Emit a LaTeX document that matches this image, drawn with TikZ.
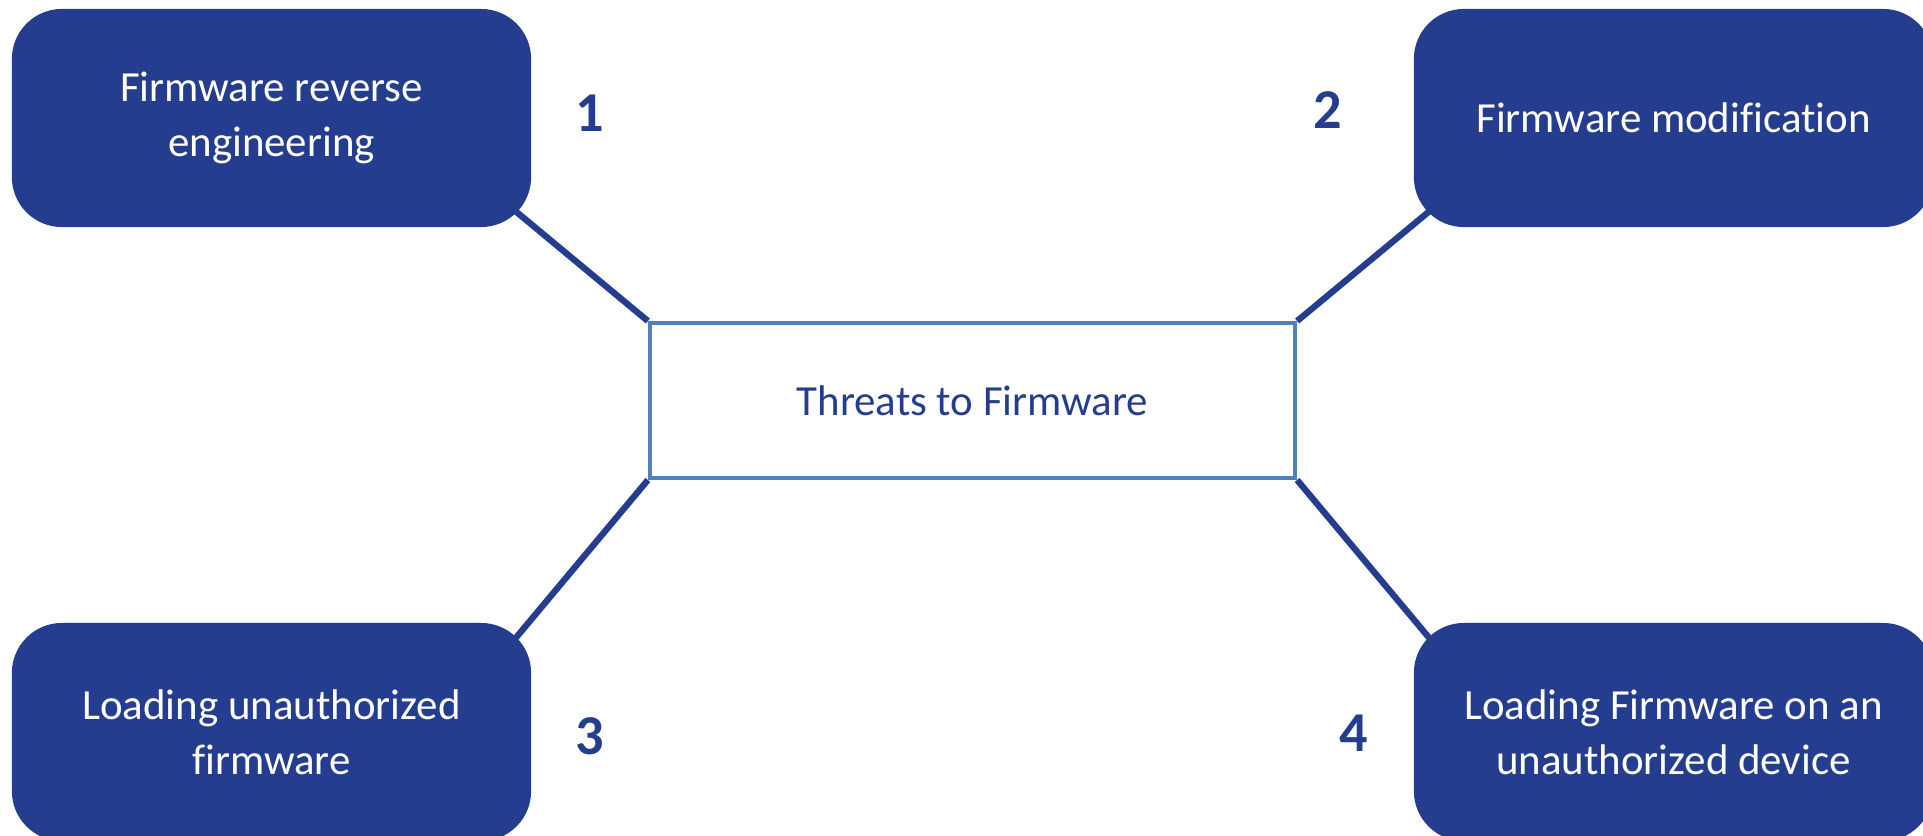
\documentclass[tikz,border=0pt]{standalone}
\usepackage{fontspec}
\setmainfont[Ligatures=NoCommon]{Carlito}
\usetikzlibrary{calc,positioning,backgrounds}
\definecolor{threatblue}{RGB}{37,61,142}
\definecolor{rectblue}{RGB}{79,129,189}
\tikzset{
  line cap=round,
  line join=round,
  threatbox/.style={fill=threatblue, text=white, rounded corners=0.5cm,
    minimum width=5.19cm, minimum height=2.18cm, align=center,
    font=\fontsize{12.2}{15.5}\selectfont},
  hub/.style={draw=rectblue, line width=1.1pt, minimum width=6.45cm,
    minimum height=1.55cm, text=threatblue, font=\fontsize{12.2}{15}\selectfont},
  link/.style={draw=threatblue, line width=1.8pt},
  num/.style={text=threatblue, font=\fontsize{16}{19}\selectfont\bfseries}
}

\begin{document}
\begin{tikzpicture}[x=0.01cm,y=-0.01cm]
  \useasboundingbox (0,0) rectangle (1923,835);
  \clip (0,0) rectangle (1923,835);

  % centre
  \node[hub] (hub) at (972.5,400.5) {Threats to Firmware};

  % the four threats
  \node[threatbox] (t1) at (271.5,118) {Firmware reverse\\engineering};
  \node[threatbox] (t2) at (1673.5,118) {Firmware modification};
  \node[threatbox] (t3) at (271.5,732) {Loading unauthorized\\firmware};
  \node[threatbox] (t4) at (1673.5,732) {Loading Firmware on an\\unauthorized device};

  \node[num] (n1) at (590,113) {1};
  \node[num] (n2) at (1328,110) {2};
  \node[num] (n3) at (590,736) {3};
  \node[num] (n4) at (1354,733) {4};

  \begin{scope}[on background layer]
    \draw[link] (hub.north west) -- ([shift={(-18,-18)}]t1.south east);
    \draw[link] (hub.north east) -- ([shift={(18,-18)}]t2.south west);
    \draw[link] (hub.south west) -- ([shift={(-18,18)}]t3.north east);
    \draw[link] (hub.south east) -- ([shift={(18,18)}]t4.north west);
  \end{scope}
\end{tikzpicture}
\end{document}
